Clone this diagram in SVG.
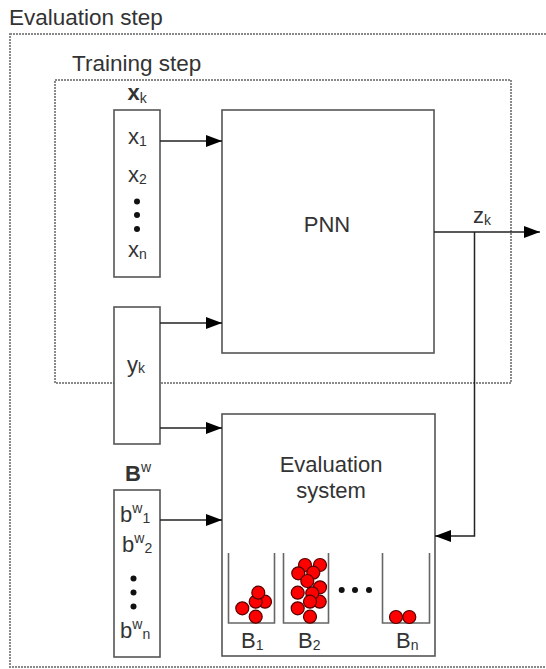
<svg xmlns="http://www.w3.org/2000/svg" width="546" height="669" viewBox="0 0 546 669">
  <defs>
    <marker id="arrow" viewBox="0 0 16 12" refX="16" refY="6" markerWidth="16" markerHeight="12" markerUnits="userSpaceOnUse" orient="auto">
      <path d="M0,0 L16,6 L0,12 Z" fill="#000"/>
    </marker>
    <style>
      text { font-family: "Liberation Sans", Arial, sans-serif; fill: #333; }
      .title { font-size: 22.5px; }
      .lbl { font-size: 22px; }
      .sub { font-size: 14px; }
      .bold { font-weight: bold; }
      .frame { fill: none; stroke: #8a8a8a; stroke-width: 2; stroke-dasharray: 2 1; }
      .box { fill: #fff; stroke: #555; stroke-width: 1.6; }
      .wire { fill: none; stroke: #222; stroke-width: 1.5; }
      .bin { fill: none; stroke: #666; stroke-width: 1.6; }
      .ball { fill: #f00; stroke: #500; stroke-width: 1.2; }
      .dot { fill: #111; }
    </style>
  </defs>

  <!-- evaluation frame -->
  <g id="evaluation-step">
    <rect class="frame" x="10" y="34" width="560" height="633"/>
    <text class="title" x="9" y="25">Evaluation step</text>
  </g>

  <!-- training frame -->
  <g id="training-step">
    <rect class="frame" x="55" y="80" width="456" height="303"/>
    <text class="title" x="72" y="71">Training step</text>
  </g>

  <!-- input vector x_k -->
  <g id="xk">
    <text x="137" y="100" text-anchor="middle"><tspan class="lbl bold" font-size="20">x</tspan><tspan class="sub" dy="3">k</tspan></text>
    <rect class="box" x="114" y="110" width="46" height="167"/>
    <text x="128" y="144"><tspan class="lbl">x</tspan><tspan class="sub" dy="2">1</tspan></text>
    <text x="128" y="182"><tspan class="lbl">x</tspan><tspan class="sub" dy="2">2</tspan></text>
    <circle class="dot" cx="137" cy="201.5" r="3"/>
    <circle class="dot" cx="137" cy="215" r="3"/>
    <circle class="dot" cx="137" cy="229" r="3"/>
    <text x="128" y="257"><tspan class="lbl">x</tspan><tspan class="sub" dy="2">n</tspan></text>
  </g>

  <!-- target y_k -->
  <g id="yk">
    <rect class="box" x="114" y="307" width="46" height="137"/>
    <text x="127" y="372"><tspan class="lbl">y</tspan><tspan class="sub" dy="1">k</tspan></text>
  </g>

  <!-- weight vector B^w -->
  <g id="bw">
    <text x="125" y="481"><tspan class="lbl bold">B</tspan><tspan class="sub" dy="-9">w</tspan></text>
    <rect class="box" x="114" y="490" width="46" height="167"/>
    <text x="120" y="522"><tspan class="lbl">b</tspan><tspan class="sub" dy="-9">w</tspan><tspan class="sub" dy="10">1</tspan></text>
    <text x="122" y="552"><tspan class="lbl">b</tspan><tspan class="sub" dy="-9">w</tspan><tspan class="sub" dy="10">2</tspan></text>
    <circle class="dot" cx="133.5" cy="578.5" r="3"/>
    <circle class="dot" cx="133.5" cy="592.5" r="3"/>
    <circle class="dot" cx="133.5" cy="606.5" r="3"/>
    <text x="120" y="638"><tspan class="lbl">b</tspan><tspan class="sub" dy="-9">w</tspan><tspan class="sub" dy="10">n</tspan></text>
  </g>

  <!-- neural network block -->
  <g id="pnn">
    <rect class="box" x="222" y="110" width="212" height="243"/>
    <text class="lbl" x="327" y="232" text-anchor="middle">PNN</text>
  </g>

  <!-- evaluation system with bins -->
  <g id="evaluation-system">
    <rect class="box" x="222" y="414" width="213" height="242"/>
    <text class="lbl" x="331" y="472" text-anchor="middle">Evaluation</text>
    <text class="lbl" x="331" y="498" text-anchor="middle">system</text>

    <path class="bin" d="M228.5,553 V623 H274.5 V553"/>
    <path class="bin" d="M283.5,553 V623 H328.5 V553"/>
    <path class="bin" d="M382.5,553 V623 H429.5 V553"/>

    <g id="bin1-balls">
      <circle class="ball" cx="242.3" cy="608.3" r="6.5"/>
      <circle class="ball" cx="265" cy="601.7" r="6.5"/>
      <circle class="ball" cx="255.7" cy="601.7" r="6.5"/>
      <circle class="ball" cx="258.3" cy="592.7" r="6.5"/>
      <circle class="ball" cx="255.7" cy="616.7" r="6.5"/>
    </g>
    <g id="bin2-balls">
      <circle class="ball" cx="305" cy="565" r="6.5"/>
      <circle class="ball" cx="320" cy="565" r="6.5"/>
      <circle class="ball" cx="313.3" cy="572.7" r="6.5"/>
      <circle class="ball" cx="298.3" cy="573.3" r="6.5"/>
      <circle class="ball" cx="307.3" cy="581" r="6.5"/>
      <circle class="ball" cx="320" cy="587.3" r="6.5"/>
      <circle class="ball" cx="297.7" cy="592.7" r="6.5"/>
      <circle class="ball" cx="319.7" cy="601.7" r="6.5"/>
      <circle class="ball" cx="312.3" cy="593.3" r="6.5"/>
      <circle class="ball" cx="310" cy="601.7" r="6.5"/>
      <circle class="ball" cx="297.7" cy="608.3" r="6.5"/>
      <circle class="ball" cx="310" cy="616.7" r="6.5"/>
    </g>
    <g id="binn-balls">
      <circle class="ball" cx="396" cy="617" r="6.5"/>
      <circle class="ball" cx="409.3" cy="617" r="6.5"/>
    </g>

    <circle class="dot" cx="341.7" cy="590" r="3"/>
    <circle class="dot" cx="355" cy="590" r="3"/>
    <circle class="dot" cx="369" cy="590" r="3"/>

    <text x="241" y="648"><tspan class="lbl">B</tspan><tspan class="sub" dy="2">1</tspan></text>
    <text x="298" y="648"><tspan class="lbl">B</tspan><tspan class="sub" dy="2">2</tspan></text>
    <text x="396" y="648"><tspan class="lbl">B</tspan><tspan class="sub" dy="2">n</tspan></text>
  </g>

  <!-- connectors -->
  <g id="connectors">
    <line class="wire" x1="160" y1="141" x2="222" y2="141" marker-end="url(#arrow)"/>
    <line class="wire" x1="160" y1="323" x2="222" y2="323" marker-end="url(#arrow)"/>
    <line class="wire" x1="160" y1="428" x2="222" y2="428" marker-end="url(#arrow)"/>
    <line class="wire" x1="160" y1="520" x2="222" y2="520" marker-end="url(#arrow)"/>
    <line class="wire" x1="434" y1="232" x2="540" y2="232" marker-end="url(#arrow)"/>
    <path class="wire" d="M474.5,232 V536 H435" marker-end="url(#arrow)"/>
    <text x="473" y="223"><tspan class="lbl">z</tspan><tspan class="sub" dy="2">k</tspan></text>
  </g>
</svg>
